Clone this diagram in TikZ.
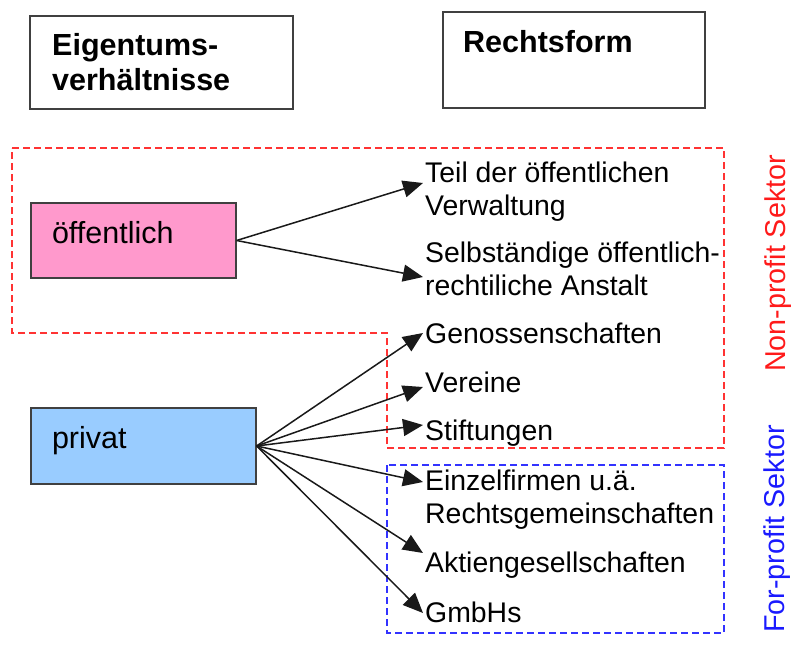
\documentclass[tikz,border=0pt]{standalone}
\usepackage{fontspec}
\setmainfont{Liberation Sans}
\usetikzlibrary{arrows.meta}
\definecolor{pinkfill}{HTML}{FF99CC}
\definecolor{bluefill}{HTML}{99CCFF}
\definecolor{reddash}{HTML}{FF3333}
\definecolor{bluedash}{HTML}{3333FF}
\definecolor{redtext}{HTML}{FF1A1A}
\definecolor{bluetext}{HTML}{1A1AFF}
\begin{document}
\begin{tikzpicture}[x=1pt,y=-1pt,
  hdrbox/.style={draw=black!75, line width=1.5pt, fill=white, minimum width=#1, inner sep=0pt},
  hdrtext/.style={font=\fontsize{30.5}{35}\selectfont\bfseries, align=left, anchor=base west, inner sep=0pt},
  catbox/.style={draw=black!75, line width=1.2pt, fill=#1, inner xsep=21pt, inner ysep=0pt,
    align=left, text height=22pt, text depth=17pt, font=\fontsize{30.5}{35}\selectfont},
  item/.style={font=\fontsize{28.4}{33}\selectfont, align=left, anchor=base west, inner sep=0pt},
  arr/.style={-{Triangle[length=20pt,width=17pt]}, line width=1.5pt, black!90},
  sector/.style={font=\fontsize{28.7}{33}\selectfont, rotate=90, anchor=base, inner sep=0pt},
  dashbox/.style={line width=1.4pt, dash pattern=on 7pt off 4pt}
]
\useasboundingbox (0,0) rectangle (798,648);

% sector frames
\draw[dashbox, reddash] (12,148) -- (724,148) -- (724,448) -- (387,448) -- (387,333) -- (12,333) -- cycle;
\draw[dashbox, bluedash] (387,465) rectangle (724,633);

% header boxes
\node[hdrbox=263pt, minimum height=93pt] (eig) at (161.5,62.5) {};
\node[hdrtext] (eigt) at (52,90) {Eigentums-\\verhältnisse};
\node[hdrbox=262pt, minimum height=96pt] (rf) at (574,60) {};
\node[hdrtext] (rft) at (463,52) {Rechtsform};

% ownership boxes
\node[catbox=pinkfill, text width=163pt, minimum height=75pt] (oef) at (133.5,240.5) {öffentlich};
\node[catbox=bluefill, text width=183pt, minimum height=76pt] (priv) at (143.5,446) {privat};

% legal forms (base anchor = baseline of last line)
\node[item] (t1) at (425,215) {Teil der öffentlichen\\Verwaltung};
\node[item] (t2) at (425,295) {Selbständige öffentlich-\\rechtiliche Anstalt};
\node[item] (t3) at (425,343) {Genossenschaften};
\node[item] (t4) at (425,392) {Vereine};
\node[item] (t5) at (425,440) {Stiftungen};
\node[item] (t6) at (425,523) {Einzelfirmen u.ä.\\Rechtsgemeinschaften};
\node[item] (t7) at (425,572) {Aktiengesellschaften};
\node[item] (t8) at (425,622) {GmbHs};

% sector labels
\node[sector, text=redtext] (np) at (785,263.5) {Non-profit Sektor};
\node[sector, text=bluetext] (fp) at (784,529) {For-profit Sektor};

% arrows
\draw[arr] (oef.east) -- ([xshift=-2pt,yshift=32pt]t1.base west);
\draw[arr] (oef.east) -- ([xshift=-2pt,yshift=18pt]t2.base west);
\draw[arr] (priv.east) -- ([xshift=-2pt,yshift=10pt]t3.base west);
\draw[arr] (priv.east) -- ([xshift=-2pt,yshift=5pt]t4.base west);
\draw[arr] (priv.east) -- ([xshift=-2pt,yshift=15pt]t5.base west);
\draw[arr] (priv.east) -- ([xshift=-2pt,yshift=41pt]t6.base west);
\draw[arr] (priv.east) -- ([xshift=-2pt,yshift=19pt]t7.base west);
\draw[arr] (priv.east) -- ([xshift=-2pt,yshift=9pt]t8.base west);
\end{tikzpicture}
\end{document}
